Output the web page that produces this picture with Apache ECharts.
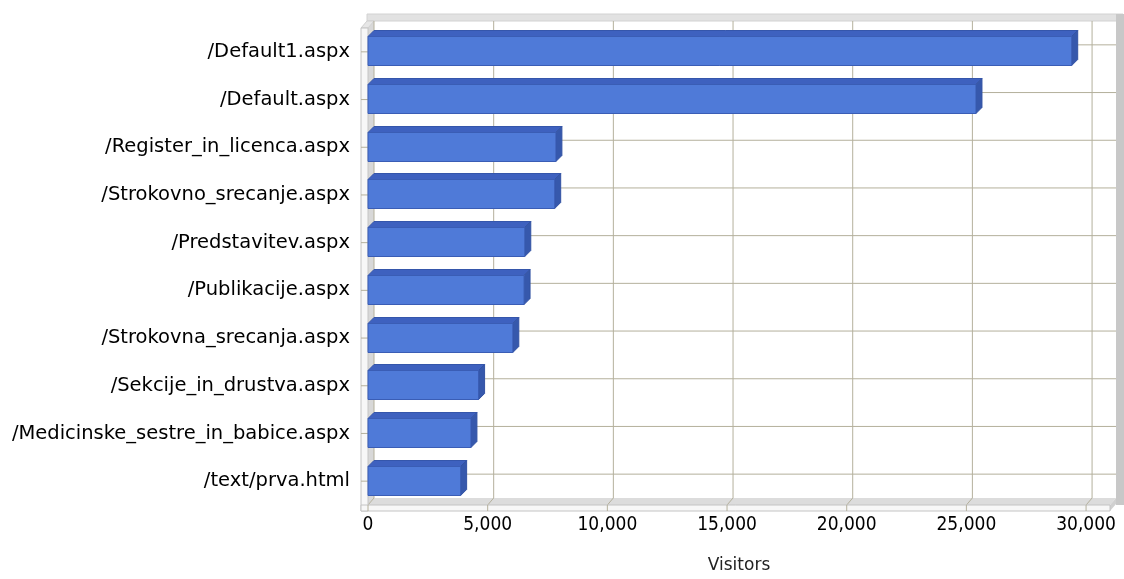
<!DOCTYPE html>
<html><head><meta charset="utf-8">
<script src="https://cdn.jsdelivr.net/npm/echarts@6/dist/echarts.min.js"></script>
<style>html,body{margin:0;padding:0;background:#fff}#c{width:1124px;height:579px}</style>
</head><body><div id="c"></div>
<script>
const categories = ['/Default1.aspx','/Default.aspx','/Register_in_licenca.aspx','/Strokovno_srecanje.aspx','/Predstavitev.aspx','/Publikacije.aspx','/Strokovna_srecanja.aspx','/Sekcije_in_drustva.aspx','/Medicinske_sestre_in_babice.aspx','/text/prva.html'];
const visitors = [29400, 25400, 7850, 7800, 6550, 6520, 6050, 4620, 4300, 3870];
const xTickValues = [0, 5000, 10000, 15000, 20000, 25000, 30000];
const axisMax = 31000;

const DX = 6, DY = -7, T = 7, FL = 6;
const FONT_C = 'DejaVu Sans Condensed';
const FONT = 'DejaVu Sans';
const GRIDC = '#b4b09c';
const WALLS = '#c4c4c4';

function line(x1,y1,x2,y2,c){return {type:'line',shape:{x1,y1,x2,y2},style:{stroke:c||GRIDC,lineWidth:1}};}

function frameItem(params, api){
  const cs = params.coordSys;
  const x0 = cs.x, x1 = cs.x + cs.width, yT = cs.y, yB = cs.y + cs.height;
  const ch = [];
  ch.push({type:'rect',shape:{x:x0+DX,y:yT+DY,width:cs.width,height:cs.height},style:{fill:'#fff'}});
  ch.push({type:'rect',shape:{x:x0-T+DX,y:yT+DY-T,width:cs.width+2*T,height:T},style:{fill:'#e2e2e2',stroke:'#d2d2d2',lineWidth:1}});
  ch.push({type:'rect',shape:{x:x1+DX,y:yT+DY-T,width:T+2,height:cs.height+T+FL+1},style:{fill:'#c8c8c8'}});
  ch.push({type:'polygon',shape:{points:[[x0,yT],[x0+DX,yT+DY],[x0+DX,yB+DY],[x0,yB]]},style:{fill:'#d8d8d8'}});
  ch.push({type:'polygon',shape:{points:[[x0-T,yT],[x0,yT],[x0+DX,yT+DY],[x0-T+DX,yT+DY]]},style:{fill:'#e6e6e6',stroke:'#cfcfcf',lineWidth:1}});
  ch.push({type:'polygon',shape:{points:[[x0,yB],[x0+DX,yB+DY],[x1+DX,yB+DY],[x1,yB]]},style:{fill:'#dcdcdc'}});
  ch.push({type:'polygon',shape:{points:[[x1,yB],[x1+DX,yB+DY],[x1+DX,yB+DY+FL],[x1,yB+FL]]},style:{fill:'#d0d0d0'}});
  xTickValues.forEach(v => {
    const px = api.coord([v, 0])[0];
    ch.push(line(px+DX, yT+DY, px+DX, yB+DY));
    ch.push(line(px+DX, yB+DY, px, yB));
  });
  categories.forEach((c, i) => {
    const py = api.coord([0, i])[1];
    ch.push(line(x0+DX, py+DY, x1+DX, py+DY));
    ch.push(line(x0, py, x0+DX, py+DY));
  });
  ch.push({type:'rect',shape:{x:x0-T,y:yT,width:T,height:cs.height+FL},style:{fill:'#f7f7f7',stroke:WALLS,lineWidth:1}});
  ch.push({type:'rect',shape:{x:x0-T,y:yB,width:cs.width+T,height:FL},style:{fill:'#f7f7f7',stroke:WALLS,lineWidth:1}});
  xTickValues.forEach(v => {
    const px = api.coord([v, 0])[0];
    ch.push(line(px, yB, px, yB+FL));
  });
  categories.forEach((c, i) => {
    const py = api.coord([0, i])[1];
    ch.push(line(x0-T, py, x0, py));
  });
  return {type:'group', children: ch};
}

function barItem(params, api){
  const v = api.value(0), i = api.value(1);
  const s = api.coord([0, i]), e = api.coord([v, i]);
  const h = 29;
  const yt = Math.round(s[1] - h/2) - 0.5, yb = yt + h;
  const xs = s[0], xe = e[0];
  return {type:'group', children:[
    {type:'polygon',shape:{points:[[xs,yt],[xs+DX,yt+DY+1],[xe+DX,yt+DY+1],[xe,yt]]},style:{fill:'#3e61bf',stroke:'#3556ab',lineWidth:1}},
    {type:'polygon',shape:{points:[[xe,yt],[xe+DX,yt+DY+1],[xe+DX,yb+DY+1],[xe,yb]]},style:{fill:'#3658ac',stroke:'#3252a3',lineWidth:1}},
    {type:'rect',shape:{x:xs,y:yt,width:xe-xs,height:h},style:{fill:'#4f7ad8',stroke:'#3a5db5',lineWidth:1}}
  ]};
}

const chart = echarts.init(document.getElementById('c'));
chart.setOption({
  animation: false,
  backgroundColor: '#fff',
  grid: {left: 368, right: 14, top: 28, bottom: 73},
  xAxis: {
    type: 'value', min: 0, max: axisMax, interval: 5000,
    axisLine: {show: false}, axisTick: {show: false}, splitLine: {show: false},
    axisLabel: {showMaxLabel: false, margin: 11, color: '#000', fontFamily: FONT_C, fontSize: 19,
      formatter: v => v.toLocaleString('en-US')},
    name: 'Visitors', nameLocation: 'middle', nameGap: 52,
    nameTextStyle: {color: '#222', fontFamily: FONT, fontSize: 17}
  },
  yAxis: {
    type: 'category', data: categories, inverse: true,
    axisLine: {show: false}, axisTick: {show: false}, splitLine: {show: false},
    axisLabel: {margin: 18, color: '#000', fontFamily: FONT, fontSize: 19.5}
  },
  series: [
    {type: 'custom', name: 'frame', renderItem: frameItem, data: [[0, 0]], silent: true, z: 1, clip: false},
    {type: 'custom', name: 'Visitors', renderItem: barItem, data: visitors.map((v, i) => [v, i]), z: 2, clip: false,
      encode: {x: 0, y: 1}}
  ]
});
</script></body></html>
